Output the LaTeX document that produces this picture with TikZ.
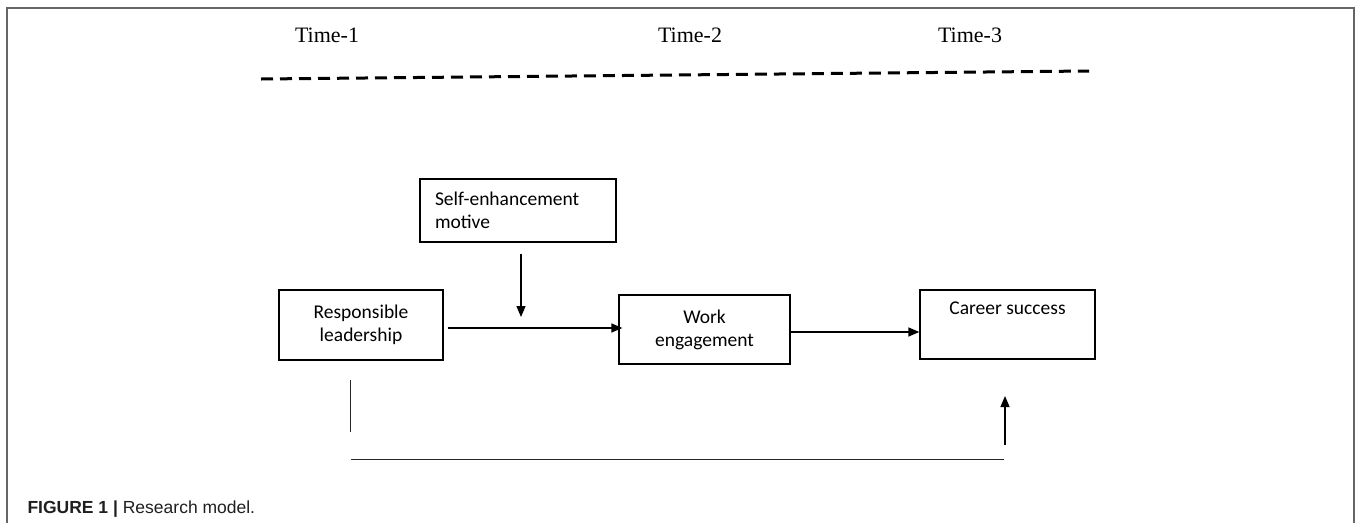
\documentclass[tikz,border=0pt]{standalone}
\usepackage{fontspec}
\setmainfont{Liberation Serif}
\newfontfamily\boxfont{Carlito}
\newfontfamily\capfont{Liberation Sans}
\usetikzlibrary{arrows.meta}
\tikzset{
	varbox/.style={draw, line width=1.3pt, inner sep=0pt, font=\boxfont\fontsize{19.5}{23}\selectfont},
	timelabel/.style={font=\fontsize{22}{24}\selectfont},
	arr/.style={line width=1.4pt, -{Triangle[length=11pt,width=9pt]}},
	plain/.style={line width=1pt, color=black!85}
}

\begin{document}
\begin{tikzpicture}[x=1pt, y=-1pt]
			%%%%% START %%%%%
			\useasboundingbox (0, 0) rectangle (1357, 523);
			
			\draw[line width=1.5pt, color=black!60] (7, 523) -- (7, 8) -- (1354, 8) -- (1354, 523);
			
			\node[timelabel] (time1) at (327, 35) {Time-1};
			\node[timelabel] (time2) at (690, 35) {Time-2};
			\node[timelabel] (time3) at (970, 35) {Time-3};
			\draw[line width=3pt, dash pattern=on 12pt off 7pt] (261, 79) -- (1089, 71);
			
			\node[varbox, minimum width=196pt, minimum height=63pt, text width=166pt, align=left] (motive) at (518, 210.5) {Self-enhancement\\motive};
			\node[varbox, minimum width=164pt, minimum height=70pt, align=center] (leader) at (361, 325) {Responsible\\leadership};
			\node[varbox, minimum width=171pt, minimum height=69pt, align=center] (engage) at (704.5, 329.5) {Work\\engagement};
			\node[varbox, minimum width=175pt, minimum height=69pt] (career) at (1007.5, 324.5) {};
			\node[anchor=north, font=\boxfont\fontsize{19.5}{23}\selectfont] (careertext) at ([yshift=-9pt]career.north) {Career success};
			
			\coordinate (modtip) at (521, 317);
			\draw[arr] (motive.south -| modtip) ++(0, 11) -- (modtip);
			\draw[arr] ([xshift=4pt, yshift=-3pt]leader.east) -- ([xshift=4pt, yshift=-3pt]leader.east -| engage.west);
			\draw[arr] ([yshift=-2.5pt]engage.east) -- ([yshift=-2.5pt]engage.east -| career.west);
			
			\coordinate (drop1) at (350, 380);
			\coordinate (drop2) at (350, 432);
			\coordinate (run1) at (351, 459);
			\coordinate (run2) at (1004, 459);
			\coordinate (rise1) at (1005, 445);
			\coordinate (rise2) at (1005, 396);
			\draw[plain] (drop1) -- (drop2);
			\draw[plain] (run1) -- (run2);
			\draw[arr, line width=1.2pt] (rise1) -- (rise2);
			
			\node[anchor=base west, font=\capfont\fontsize{17.5}{20}\selectfont, color=black!88] (caption) at (24, 513) {\textbf{FIGURE 1 |} Research model.};
			%%%%% END %%%%%
		\end{tikzpicture}
\end{document}
